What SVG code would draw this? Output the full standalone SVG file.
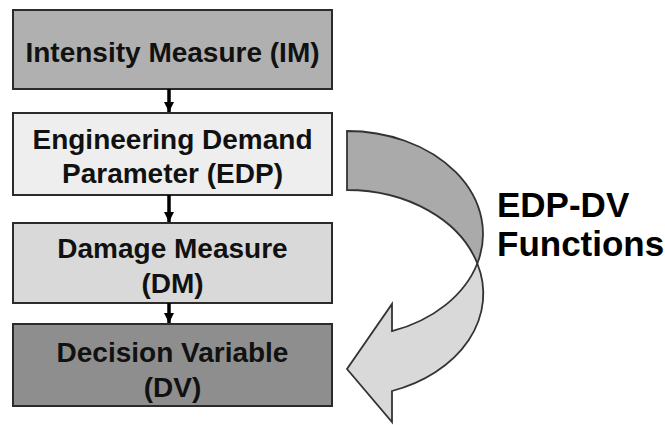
<svg xmlns="http://www.w3.org/2000/svg" width="665" height="425" viewBox="0 0 665 425">
  <style>
    .box { stroke: #2b2b2b; stroke-width: 2; }
    .lbl { font-family: "Liberation Sans", Arial, sans-serif; font-weight: bold; font-size: 28px; fill: #111; text-anchor: middle; }
    .big { font-family: "Liberation Sans", Arial, sans-serif; font-weight: bold; font-size: 35px; fill: #000; }
    .conn { stroke: #000; stroke-width: 3.5; fill: none; }
    .band { stroke: #333; stroke-width: 1.8; stroke-linejoin: miter; }
  </style>
  <defs>
    <marker id="head" viewBox="0 0 10 10" refX="10" refY="5" markerWidth="3" markerHeight="3" orient="auto" markerUnits="strokeWidth">
      <path d="M0,0 L10,5 L0,10 z" fill="#000"/>
    </marker>
  </defs>
  <rect width="665" height="425" fill="#fff"/>

  <g id="im">
    <rect class="box" x="13" y="10" width="319" height="79" fill="#b0b0b0"/>
    <text class="lbl" x="172.5" y="62">Intensity Measure (IM)</text>
  </g>
  <g id="edp">
    <rect class="box" x="13" y="113" width="319" height="82" fill="#eeeeee"/>
    <text class="lbl" x="172.5" y="149">Engineering Demand</text>
    <text class="lbl" x="172.5" y="183">Parameter (EDP)</text>
  </g>
  <g id="dm">
    <rect class="box" x="13" y="223" width="319" height="80" fill="#d9d9d9"/>
    <text class="lbl" x="172.5" y="258">Damage Measure</text>
    <text class="lbl" x="172.5" y="293">(DM)</text>
  </g>
  <g id="dv">
    <rect class="box" x="13" y="324" width="319" height="82" fill="#8e8e8e"/>
    <text class="lbl" x="172.5" y="362" fill="#000">Decision Variable</text>
    <text class="lbl" x="172.5" y="397" fill="#000">(DV)</text>
  </g>

  <g id="connectors">
    <line class="conn" x1="169" y1="89" x2="169" y2="112" marker-end="url(#head)"/>
    <line class="conn" x1="169" y1="195" x2="169" y2="222" marker-end="url(#head)"/>
    <line class="conn" x1="169" y1="303" x2="169" y2="323" marker-end="url(#head)"/>
  </g>

  <g id="edp-dv-arrow">
    <!-- back face of the curved shaft -->
    <path class="band" fill="#aaaaaa" d="M347,131 A136,103 0 0 1 477.3,263.5 A136,103 0 0 0 347,190 Z"/>
    <!-- front face of the shaft with the arrowhead -->
    <path class="band" fill="#d9d9d9" d="M477.3,263.5 A136,103 0 0 1 392,391 L392,422 L347,369 L392,304 L392,331.2 A136,103 0 0 0 477.3,263.5 Z"/>
    <text class="big" x="497" y="217">EDP-DV</text>
    <text class="big" x="497" y="256">Functions</text>
  </g>
</svg>
